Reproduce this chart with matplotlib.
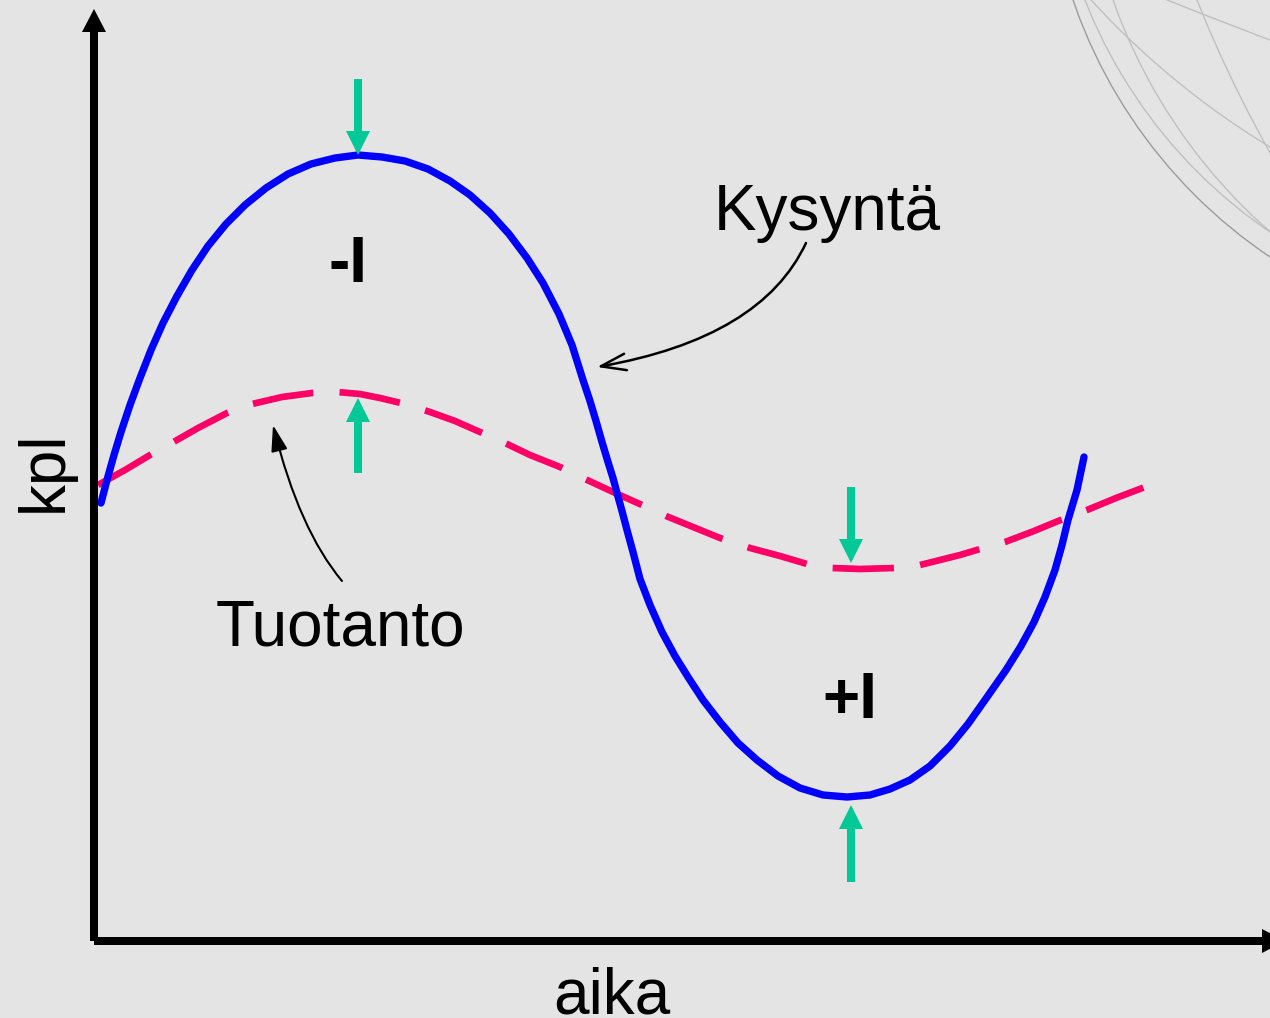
import matplotlib.pyplot as plt
import numpy as np
from matplotlib.patches import Circle

# time axis (aika) and quantity axis (kpl)
demand_t = [7, 13, 20, 27, 36, 46, 57, 69, 83, 98, 114, 132, 151, 172, 194, 217, 241, 264,
            288, 311, 334, 356, 376, 396, 415, 433, 449, 465, 478, 489, 496, 502, 508, 514,
            519, 523, 528, 533, 539, 546, 556, 568, 581, 594, 609, 626, 644, 663, 684, 706,
            729, 753, 776, 796, 816, 836, 856, 874, 891, 912, 927, 940, 951, 961, 968, 974,
            983, 990]
demand_q = [438, 461, 486, 509, 536, 563, 591, 618, 645, 671, 695, 717, 736, 753, 767, 777,
            783, 786, 784, 780, 772, 760, 746, 728, 707, 683, 658, 627, 596, 561, 540, 520,
            499, 479, 463, 448, 430, 411, 389, 362, 336, 309, 285, 264, 241, 219, 198, 181,
            165, 153, 146, 144, 146, 152, 161, 175, 195, 217, 241, 271, 295, 319, 344, 371,
            396, 421, 451, 484]

prod_t = [4, 31, 56, 76, 104, 133, 158, 188, 218, 243, 266, 286, 311, 336, 361, 386, 411,
          436, 466, 491, 519, 548, 572, 599, 626, 656, 686, 713, 738, 766, 801, 826, 846,
          866, 886, 911, 940, 969, 993, 1022, 1051]
prod_q = [456, 471, 486, 497, 513, 528, 537, 544, 548, 549, 547, 543, 537, 529, 520, 509, 498,
          486, 474, 462, 449, 436, 425, 414, 403, 393, 385, 377, 373, 372, 373, 376, 381,
          386, 392, 399, 410, 422, 431, 443, 454]

# gap markers: (t, from, to)
gap_arrows = [(264, 862, 786), (264, 468, 543), (757, 454, 378), (757, 59, 136)]

labels = ["Kysyntä", "Tuotanto", "-I", "+I"]

# decorative arcs in the corner, three points each
deco_arcs = [
    [(979, 941), (1053, 801), (1176, 684)],
    [(991, 941), (1066, 811), (1176, 709)],
    [(1019, 941), (1066, 841), (1136, 748)],
    [(1103, 941), (1143, 851), (1169, 801)],
    [(1073, 941), (1116, 924), (1176, 901)],
    [(1016, 921), (1066, 874), (1176, 794)],
]

BG = '#e4e4e4'
BLUE = '#0000ff'
PINK = '#ff0066'
GREEN = '#00c896'
FONT = 'Liberation Sans'


def circle_3pts(p1, p2, p3):
    (x1, y1), (x2, y2), (x3, y3) = p1, p2, p3
    # perpendicular bisectors
    a = np.array([[x2 - x1, y2 - y1], [x3 - x2, y3 - y2]], dtype=float)
    b = np.array([((x2**2 - x1**2) + (y2**2 - y1**2)) / 2,
                  ((x3**2 - x2**2) + (y3**2 - y2**2)) / 2])
    cx, cy = np.linalg.solve(a, b)
    return (cx, cy), np.hypot(cx - x1, cy - y1)


fig = plt.figure(figsize=(12.7, 10.18), dpi=100)
fig.patch.set_facecolor(BG)
ax = fig.add_axes([0, 0, 1, 1])
ax.set_facecolor(BG)
ax.set_xlim(-94, 1176)
ax.set_ylim(-77, 941)
ax.set_aspect('equal')
ax.axis('off')

for i, pts in enumerate(deco_arcs):
    c, r = circle_3pts(*pts)
    col = '#9c9c9c' if i == 0 else '#c0c0c0'
    ax.add_patch(Circle(c, r, fill=False, ec=col, lw=1.0, zorder=0))

# axes with arrow heads
ax.arrow(0, 0, 0, 932, width=8, head_width=24, head_length=23,
         length_includes_head=True, color='black', lw=0, zorder=5)
ax.arrow(0, 0, 1191, 0, width=8, head_width=24, head_length=23,
         length_includes_head=True, color='black', lw=0, zorder=5)

ax.plot(prod_t, prod_q, color=PINK, lw=4.8, dashes=(9.2, 3.95),
        dash_capstyle='butt', solid_joinstyle='round', zorder=3)
ax.plot(demand_t, demand_q, color=BLUE, lw=5.3, solid_capstyle='round',
        solid_joinstyle='round', zorder=4)

for t, q0, q1 in gap_arrows:
    ax.arrow(t, q0, 0, q1 - q0, width=8, head_width=24, head_length=24,
             length_includes_head=True, color=GREEN, lw=0, zorder=6)

# pointers to curves
ax.annotate('', xy=(503, 574), xytext=(712, 698),
            arrowprops=dict(arrowstyle='->,head_length=0.9,head_width=0.3',
                            connectionstyle='angle3,angleA=65,angleB=10',
                            lw=1.8, color='black', shrinkA=0, shrinkB=0,
                            mutation_scale=20))
ax.annotate('', xy=(179, 516), xytext=(248, 360),
            arrowprops=dict(arrowstyle='-|>,head_length=0.8,head_width=0.25',
                            connectionstyle='angle3,angleA=130,angleB=104',
                            lw=1.5, color='black', shrinkA=0, shrinkB=0,
                            mutation_scale=20))

ax.text(733, 711, labels[0], fontsize=46, family=FONT, ha='center', va='baseline')
ax.text(246, 296, labels[1], fontsize=46, family=FONT, ha='center', va='baseline')
ax.text(254, 659, labels[2], fontsize=46, family=FONT, weight='bold', ha='center', va='baseline')
ax.text(756, 223, labels[3], fontsize=46, family=FONT, weight='bold', ha='center', va='baseline')
ax.text(518, -72, 'aika', fontsize=46, family=FONT, ha='center', va='baseline')
ax.text(-32, 470, 'kpl', fontsize=46, family=FONT, ha='center', va='baseline',
        rotation=90, rotation_mode='anchor')

fig.savefig('out.png', dpi=100, facecolor=BG)
